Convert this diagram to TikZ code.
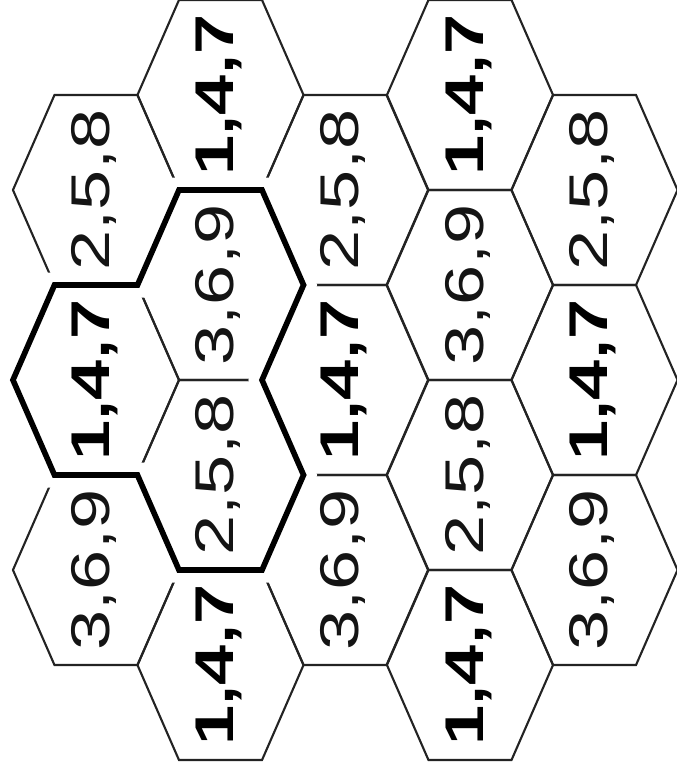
\documentclass[tikz,border=0pt]{standalone}
\usepackage{fontspec}
\setmainfont{Liberation Sans}
\usepackage{tikz}
\usetikzlibrary{shapes.geometric}
\definecolor{hexLine}{RGB}{35,35,35}
\definecolor{hexText}{RGB}{20,20,20}
\newcommand{\cellfont}{\fontsize{41}{48}\selectfont}
\tikzset{
  hexcell/.style={regular polygon, regular polygon sides=6, draw=hexLine, line width=1.2pt,
    minimum size=4.388cm, inner sep=0pt, outer sep=0pt, xscale=0.757},
  celltext/.style={xscale=0.757, rotate=90, inner sep=0pt, text=hexText,
    font=\cellfont, text height=33pt, text depth=13pt},
  keytext/.style={celltext, font=\cellfont\bfseries, text=black},
  clusterline/.style={draw=black, line width=3.2pt, line join=miter,
    preaction={draw=white, line width=0.5cm}},
}

\begin{document}
\begin{tikzpicture}[x=1cm,y=1cm]
  \useasboundingbox (0,0) rectangle (13.54,-15.52);

  \node[hexcell] (h02) at (1.92,-3.8) {};
  \node[hexcell] (h04) at (1.92,-7.6) {};
  \node[hexcell] (h06) at (1.92,-11.4) {};

  \node[hexcell] (h11) at (4.41,-1.9) {};
  \node[hexcell] (h13) at (4.41,-5.7) {};
  \node[hexcell] (h15) at (4.41,-9.5) {};
  \node[hexcell] (h17) at (4.41,-13.3) {};

  \node[hexcell] (h22) at (6.90,-3.8) {};
  \node[hexcell] (h24) at (6.90,-7.6) {};
  \node[hexcell] (h26) at (6.90,-11.4) {};

  \node[hexcell] (h31) at (9.40,-1.9) {};
  \node[hexcell] (h33) at (9.40,-5.7) {};
  \node[hexcell] (h35) at (9.40,-9.5) {};
  \node[hexcell] (h37) at (9.40,-13.3) {};

  \node[hexcell] (h42) at (11.89,-3.8) {};
  \node[hexcell] (h44) at (11.89,-7.6) {};
  \node[hexcell] (h46) at (11.89,-11.4) {};

  \draw[clusterline] (h04.corner 3) -- (h04.corner 2) -- (h04.corner 1)
    -- (h13.corner 2) -- (h13.corner 1) -- (h13.corner 6) -- (h13.corner 5)
    -- (h15.corner 6) -- (h15.corner 5) -- (h15.corner 4) -- (h15.corner 3)
    -- (h04.corner 4) -- cycle;

  \node[celltext] (t02) at (h02) {2,5,8};
  \node[keytext] (t04) at (h04) {1,4,7};
  \node[celltext] (t06) at (h06) {3,6,9};

  \node[keytext] (t11) at (h11) {1,4,7};
  \node[celltext] (t13) at (h13) {3,6,9};
  \node[celltext] (t15) at (h15) {2,5,8};
  \node[keytext] (t17) at (h17) {1,4,7};

  \node[celltext] (t22) at (h22) {2,5,8};
  \node[keytext] (t24) at (h24) {1,4,7};
  \node[celltext] (t26) at (h26) {3,6,9};

  \node[keytext] (t31) at (h31) {1,4,7};
  \node[celltext] (t33) at (h33) {3,6,9};
  \node[celltext] (t35) at (h35) {2,5,8};
  \node[keytext] (t37) at (h37) {1,4,7};

  \node[celltext] (t42) at (h42) {2,5,8};
  \node[keytext] (t44) at (h44) {1,4,7};
  \node[celltext] (t46) at (h46) {3,6,9};
\end{tikzpicture}
\end{document}
